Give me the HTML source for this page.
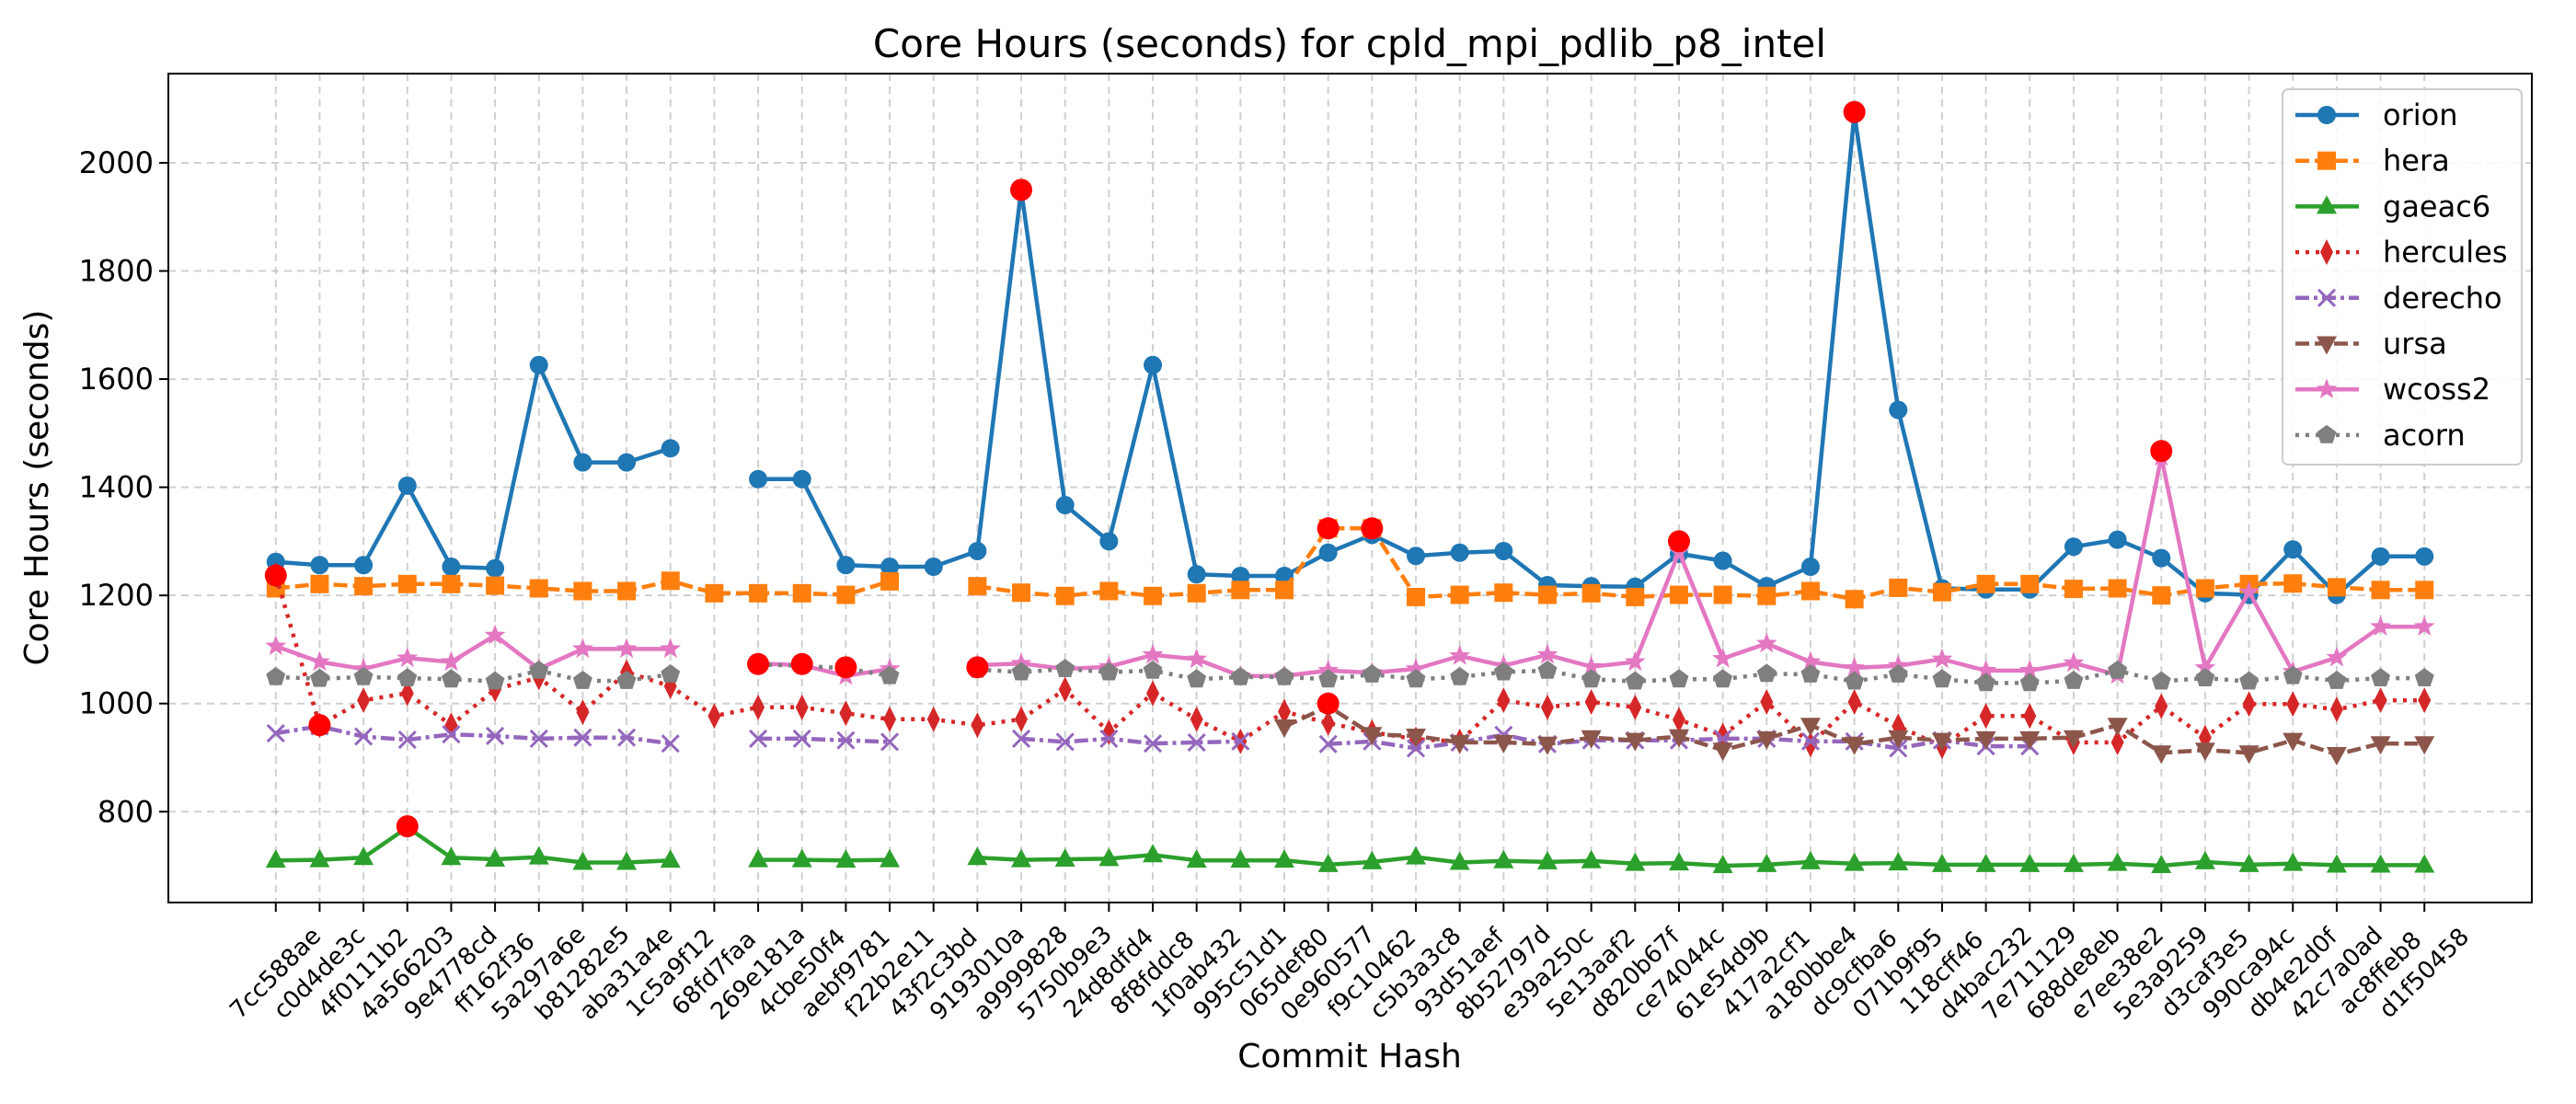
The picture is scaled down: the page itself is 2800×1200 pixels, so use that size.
<!DOCTYPE html>
<html><head><meta charset="utf-8"><style>
html,body{margin:0;padding:0;background:#fff;}
svg{display:block;font-family:"DejaVu Sans","Liberation Sans",sans-serif;}
</style></head><body>
<svg id="chart" width="2800" height="1200" viewBox="0 0 2800 1200" xmlns="http://www.w3.org/2000/svg">
<rect width="2800" height="1200" fill="#fff"/>
<text x="1467" y="62" font-size="42" text-anchor="middle">Core Hours (seconds) for cpld_mpi_pdlib_p8_intel</text>
<text x="1467" y="1160" font-size="36" text-anchor="middle">Commit Hash</text>
<text transform="translate(52,530) rotate(-90)" font-size="36" text-anchor="middle">Core Hours (seconds)</text>
<g id="grid"></g>
<g id="series"></g>
<g id="ticks"></g>
<rect x="183" y="80" width="2569" height="901" fill="none" stroke="#000" stroke-width="2"/>
<g id="legend"></g>
</svg>
<script>
const categories = ["7cc588ae","c0d4de3c","4f0111b2","4a566203","9e4778cd","ff162f36","5a297a6e","b81282e5","aba31a4e","1c5a9f12","68fd7faa","269e181a","4cbe50f4","aebf9781","f22b2e11","43f2c3bd","9193010a","a9999828","5750b9e3","24d8dfd4","8f8fddc8","1f0ab432","995c51d1","065def80","0e960577","f9c10462","c5b3a3c8","93d51aef","8b52797d","e39a250c","5e13aaf2","d820b67f","ce74044c","61e54d9b","417a2cf1","a180bbe4","dc9cfba6","071b9f95","118cff46","d4bac232","7e711129","688de8eb","e7ee38e2","5e3a9259","d3caf3e5","990ca94c","db4e2d0f","42c7a0ad","ac8ffeb8","d1f50458"];
const yTicks = [800,1000,1200,1400,1600,1800,2000];
const orion = [1262,1256,1256,1403,1253,1250,1626,1446,1446,1472,null,1415,1415,1256,1253,1253,1282,1950,1367,1300,1626,1239,1236,1236,1279,1312,1273,1279,1282,1219,1217,1216,1277,1264,1217,1253,2090,1543,1213,1211,1211,1290,1303,1269,1204,1201,1285,1201,1272,1272];
const hera = [1213,1221,1217,1221,1221,1218,1213,1208,1208,1227,1204,1204,1204,1201,1226,null,1217,1205,1199,1208,1199,1204,1210,1210,1324,1324,1197,1201,1205,1201,1204,1197,1201,1201,1199,1208,1193,1214,1206,1221,1221,1212,1213,1200,1213,1221,1222,1215,1210,1210];
const gaeac6 = [710,711,715,771,715,712,716,706,706,710,null,711,711,710,711,null,715,711,712,713,720,710,710,710,702,707,716,706,709,707,709,704,705,700,702,707,704,705,702,702,702,702,704,700,707,702,704,701,701,701];
const hercules = [1237,960,1006,1019,960,1026,1048,984,1058,1032,977,993,993,982,971,971,960,971,1026,947,1019,971,930,985,964,947,934,930,1006,993,1003,993,970,941,1003,924,1003,958,921,977,977,928,928,995,937,999,999,989,1006,1006];
const derecho = [945,958,939,933,943,940,935,937,937,926,null,935,935,932,929,null,null,935,929,935,926,928,930,null,925,930,917,928,942,925,932,932,932,935,935,930,930,917,932,921,921,null,null,null,null,null,null,null,null,null];
const ursa = [null,null,null,null,null,null,null,null,null,null,null,null,null,null,null,null,null,null,null,null,null,null,null,957,995,943,940,928,928,925,937,932,939,914,935,960,925,937,932,935,935,937,960,909,914,909,932,906,926,926];
const wcoss2 = [1106,1077,1064,1084,1077,1126,1064,1101,1101,1101,null,1074,1071,1051,1064,null,1071,1074,1064,1068,1090,1082,1051,1051,1061,1057,1064,1088,1070,1090,1068,1077,1280,1083,1111,1077,1066,1070,1082,1061,1061,1075,1053,1456,1066,1206,1059,1085,1142,1142];
const acorn = [1049,1046,1049,1047,1045,1041,1061,1042,1042,1054,null,1072,1070,1065,1051,null,1063,1058,1064,1058,1061,1045,1049,1049,1045,1054,1045,1049,1058,1061,1045,1041,1045,1045,1055,1054,1041,1054,1045,1038,1038,1042,1061,1041,1047,1041,1051,1042,1047,1047];
const anomalyIdx = [0,1,3,11,12,13,16,17,24,24,25,32,36,43];
const anomalyVal = [1237,960,773,1073,1073,1067,1067,1950,1324,1000,1324,1300,2094,1467];

const NS="http://www.w3.org/2000/svg";
const L=183,R=2752,T=80,B=981;
const n=categories.length;
const xScale=i=>L+(i+2.45)*(R-L)/(n-1+4.9);
const yMin=632,yMax=2165;
const yScale=v=>B-(v-yMin)/(yMax-yMin)*(B-T);
function mk(tag,attrs,parent){const e=document.createElementNS(NS,tag);for(const k in attrs)e.setAttribute(k,attrs[k]);parent.appendChild(e);return e;}
const grid=document.getElementById('grid'),ticks=document.getElementById('ticks'),ser=document.getElementById('series'),leg=document.getElementById('legend');
yTicks.forEach(v=>{const y=yScale(v);
 const g=mk('line',{x1:L,x2:R,y1:y,y2:y,stroke:'#b0b0b0','stroke-width':2,'stroke-dasharray':'8,6','stroke-opacity':0.6},grid);
 
 
 const t=mk('line',{x1:L-10,x2:L,y1:y,y2:y,stroke:'#000','stroke-width':2},ticks);
 
 
 const tx=mk('text',{x:L-16,y:y+11,'font-size':32,'text-anchor':'end'},ticks);tx.textContent=v;
 
 
});
categories.forEach((c,i)=>{const x=xScale(i);
 const g=mk('line',{x1:x,x2:x,y1:T,y2:B,stroke:'#b0b0b0','stroke-width':2,'stroke-dasharray':'8,6','stroke-opacity':0.6},grid);
 
 
 const t=mk('line',{x1:x,x2:x,y1:B,y2:B+10,stroke:'#000','stroke-width':2},ticks);
 
 
 const tx=mk('text',{x:x,y:1058,'font-size':26,'text-anchor':'middle','dominant-baseline':'central',transform:`rotate(-45 ${x} 1058)`},ticks);tx.textContent=c;
 
 
});
function marker(type,x,y,color,parent){
 const s=10;let e;
 if(type==='o')e=mk('circle',{cx:x,cy:y,r:s,fill:color},parent);
 else if(type==='s')e=mk('rect',{x:x-s,y:y-s,width:2*s,height:2*s,fill:color},parent);
 else if(type==='^')e=mk('polygon',{points:`${x},${y-s-2} ${x+s+1},${y+s-2} ${x-s-1},${y+s-2}`,fill:color},parent);
 else if(type==='v')e=mk('polygon',{points:`${x},${y+s+2} ${x+s+1},${y-s+2} ${x-s-1},${y-s+2}`,fill:color},parent);
 else if(type==='d')e=mk('polygon',{points:`${x},${y-s-4} ${x+s-3},${y} ${x},${y+s+4} ${x-s+3},${y}`,fill:color},parent);
 else if(type==='x')e=mk('path',{d:`M${x-9},${y-9}L${x+9},${y+9}M${x-9},${y+9}L${x+9},${y-9}`,stroke:color,'stroke-width':3,fill:'none'},parent);
 else if(type==='*'){let p=[];for(let k=0;k<10;k++){const r=k%2?5:12;const a=-Math.PI/2+k*Math.PI/5;p.push((x+r*Math.cos(a)).toFixed(1)+','+(y+r*Math.sin(a)).toFixed(1));}e=mk('polygon',{points:p.join(' '),fill:color},parent);}
 else if(type==='p'){let p=[];for(let k=0;k<5;k++){const a=-Math.PI/2+k*2*Math.PI/5;p.push((x+11*Math.cos(a)).toFixed(1)+','+(y+11*Math.sin(a)).toFixed(1));}e=mk('polygon',{points:p.join(' '),fill:color},parent);}
 return e;
}
const seriesDefs=[
 ['orion',orion,'#1f77b4','o',''],
 ['hera',hera,'#ff7f0e','s','15,6'],
 ['gaeac6',gaeac6,'#2ca02c','^',''],
 ['hercules',hercules,'#d62728','d','4,7'],
 ['derecho',derecho,'#9467bd','x','15,5,4,5'],
 ['ursa',ursa,'#8c564b','v','15,6'],
 ['wcoss2',wcoss2,'#e377c2','*',''],
 ['acorn',acorn,'#7f7f7f','p','4,7']
];
seriesDefs.forEach(([name,data,color,mt,dash])=>{
 const g=mk('g',{},ser);
 
 
 let d='',pen=false;
 data.forEach((v,i)=>{if(v==null){pen=false;return;}d+=(pen?'L':'M')+xScale(i).toFixed(1)+','+yScale(v).toFixed(1);pen=true;});
 const p=mk('path',{d:d,fill:'none',stroke:color,'stroke-width':4.5,'stroke-linejoin':'round','stroke-dasharray':dash||'none'},g);
 
 
 data.forEach((v,i)=>{if(v==null)return;const m=marker(mt,xScale(i),yScale(v),color,g);
  
  });
});
anomalyIdx.forEach((idx,k)=>{
 const c=mk('circle',{cx:xScale(idx),cy:yScale(anomalyVal[k]),r:12,fill:'#ff0000'},ser);
 
 
});
const lb=mk('rect',{x:2481,y:97,width:260,height:408,rx:6,fill:'#fff','fill-opacity':0.85,stroke:'#cccccc','stroke-width':2},leg);


seriesDefs.forEach(([name,data,color,mt,dash],k)=>{
 const y=125+k*49.7;
 const g=mk('g',{},leg);
 
 
 mk('line',{x1:2495,x2:2564,y1:y,y2:y,stroke:color,'stroke-width':4.5,'stroke-dasharray':dash||'none'},g);
 marker(mt,2529,y,color,g);
 const t=mk('text',{x:2590,y:y+11,'font-size':32},g);t.textContent=name;
});
</script>
</body></html>
